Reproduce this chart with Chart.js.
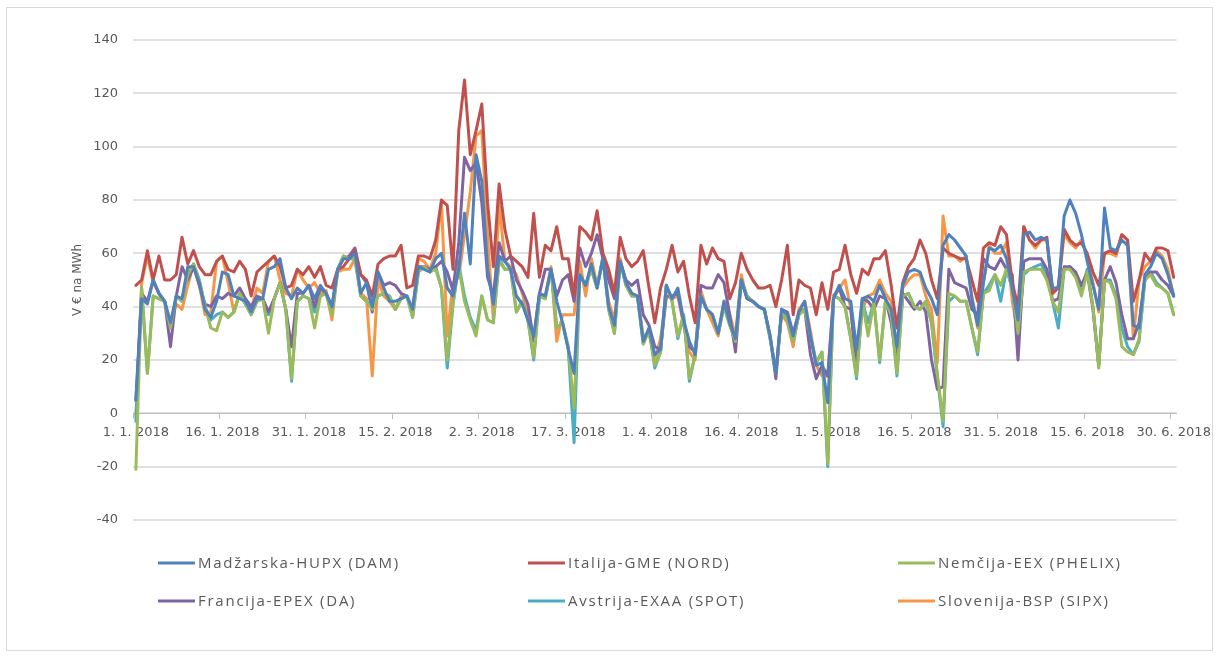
<!DOCTYPE html>
<html><head><meta charset="utf-8">
<script src="https://cdn.jsdelivr.net/npm/chart.js@4"></script>
<style>
html,body{margin:0;padding:0;background:#fff;}
#wrap{position:relative;width:1217px;height:657px;}
#frame{position:absolute;left:6px;top:7px;width:1205px;height:642px;border:1px solid #d9d9d9;pointer-events:none;}
#c{position:absolute;left:0;top:0;}
</style></head><body>
<div id="wrap"><canvas id="c" width="1217" height="657"></canvas><div id="frame"></div></div>
<script>
const tickLabels = ['1. 1. 2018','16. 1. 2018','31. 1. 2018','15. 2. 2018','2. 3. 2018','17. 3. 2018','1. 4. 2018','16. 4. 2018','1. 5. 2018','16. 5. 2018','31. 5. 2018','15. 6. 2018','30. 6. 2018'];
const seriesNames = ['Madžarska-HUPX (DAM)','Italija-GME (NORD)','Nemčija-EEX (PHELIX)','Francija-EPEX (DA)','Avstrija-EXAA (SPOT)','Slovenija-BSP (SIPX)'];
const seriesColors = ['#4f81bd','#c0504d','#9bbb59','#8064a2','#4bacc6','#f79646'];

const hungary = [
 5,43,41,50,45,42,34,44,43,55, 55,49,39,36,42,53,52,44,43,42,
 38,43,43,54,55,58,47,43,47,45, 48,43,48,45,40,54,58,58,60,45,
 49,40,53,47,42,42,43,44,39,55, 54,53,58,60,47,44,54,75,56,97,
 87,54,41,59,57,54,44,41,35,29, 45,44,54,42,34,24,15,52,48,56,
 47,58,40,33,57,49,45,44,27,32, 22,24,48,43,47,35,27,22,44,39,
 37,30,42,34,28,50,43,42,40,39, 29,15,39,37,29,38,42,29,18,19,
 4,43,48,43,42,24,43,44,42,48, 43,39,25,48,53,54,53,47,43,37,
 63,67,65,62,59,43,33,49,62,61, 63,58,47,35,67,68,65,66,65,47,
 47,74,80,75,67,57,48,39,77,62, 61,65,63,33,32,52,55,60,58,52,44];
const italy = [
 48,50,61,50,59,50,50,52,66,56, 61,55,52,52,57,59,54,53,57,54,
 44,53,55,57,59,55,47,48,54,52, 55,51,55,48,47,54,55,58,61,52,
 50,44,56,58,59,59,63,47,48,59, 59,58,65,80,78,54,106,125,97,106,
 116,79,55,86,69,59,57,55,51,75, 51,63,61,70,58,58,44,70,68,65,
 76,60,54,45,66,58,55,57,61,47, 34,47,54,63,53,57,44,34,63,56,
 62,58,57,43,49,60,54,50,47,47, 48,40,50,63,37,50,48,47,37,49,
 39,53,54,63,52,45,54,52,58,58, 61,48,32,49,55,58,65,60,50,43,
 62,60,59,58,58,50,42,62,64,63, 70,67,49,40,70,65,63,65,66,45,
 47,69,65,63,64,60,53,48,60,61, 60,67,65,42,50,60,57,62,62,61,51];
const germany = [
 -21,47,15,44,43,42,32,44,42,52, 56,50,40,32,31,38,36,38,45,41,
 37,42,43,30,43,49,39,13,42,44, 43,32,44,45,37,54,59,58,58,44,
 42,39,44,45,44,39,43,44,36,53, 55,53,54,47,20,41,55,42,35,29,
 44,35,34,57,54,54,38,42,35,21, 44,43,54,32,34,25,2,52,48,54,
 47,58,39,30,57,48,44,44,26,31, 18,23,48,42,29,37,13,22,44,39,
 37,30,40,33,27,50,44,42,40,39, 28,15,38,35,27,37,39,29,19,23,
 -19,44,43,40,28,14,42,29,42,20, 42,37,15,44,45,40,39,42,34,15,
 -3,45,44,42,42,32,23,45,46,52, 48,54,47,30,53,54,54,54,50,42,
 38,54,54,51,44,53,40,17,50,49, 43,25,23,22,28,50,52,48,47,45,37];
const france = [
 5,45,42,50,45,42,25,44,55,50, 55,48,41,40,44,43,45,44,47,43,
 40,44,43,38,43,49,39,25,45,45, 48,40,47,45,40,54,58,59,62,52,
 49,38,53,48,49,48,45,44,39,55, 55,54,55,57,53,46,64,96,91,94,
 79,51,44,64,57,59,50,46,41,27, 45,54,54,44,50,52,42,62,55,60,
 67,58,50,43,57,50,48,50,37,33, 25,24,44,44,45,34,25,23,48,47,
 47,52,49,37,23,50,43,42,40,39, 29,13,39,38,30,38,39,22,13,18,
 14,44,47,40,39,17,43,42,39,44, 43,34,19,45,42,39,42,38,20,9,
 10,54,49,48,47,39,37,58,55,54, 58,54,52,20,57,58,58,58,54,42,
 43,55,55,53,48,53,39,18,50,55, 49,37,28,28,34,50,53,53,50,48,44];
const austria = [
 -3,47,15,44,43,42,32,44,42,52, 56,50,40,35,37,38,36,38,45,41,
 37,42,43,37,43,49,39,12,42,44, 43,38,44,45,37,54,59,58,58,44,
 42,39,44,45,44,39,43,44,36,53, 55,53,55,47,17,41,56,44,36,31,
 44,35,34,58,54,54,38,42,35,20, 44,43,54,32,34,24,-11,52,48,54,
 47,59,39,30,57,48,44,44,26,32, 17,23,48,42,28,37,12,22,44,39,
 37,30,40,33,27,50,44,42,40,39, 28,15,38,35,27,37,39,29,19,23,
 -20,44,43,40,28,13,42,34,42,19, 42,37,14,44,45,40,39,42,34,14,
 -5,42,44,42,42,32,22,45,48,52, 42,54,47,30,52,54,55,56,52,42,
 32,54,55,52,45,54,40,18,50,50, 44,32,25,22,27,50,53,49,47,45,37];
const slovenia = [
 -1,49,59,49,45,42,34,41,39,48, 56,48,37,38,57,59,49,38,45,42,
 39,47,45,57,59,50,45,44,54,50, 47,49,45,46,35,53,54,54,58,45,
 43,14,50,44,42,39,44,44,39,58, 57,54,60,79,29,49,51,67,83,104,
 106,66,35,79,57,55,52,45,38,28, 45,44,55,27,37,37,37,57,44,58,
 48,58,42,35,58,49,45,44,29,30, 20,28,44,43,44,33,23,20,46,39,
 34,29,42,37,29,52,43,42,40,39, 29,15,37,34,25,39,42,31,18,14,
 14,43,47,50,39,17,39,44,45,50, 45,42,23,47,50,52,52,44,39,19,
 74,59,59,57,59,44,32,49,63,60, 60,64,42,30,70,65,62,65,65,45,
 48,67,64,62,65,59,49,38,60,60, 59,67,65,28,50,55,57,61,59,54,44];

const seriesValues = [hungary, italy, germany, france, austria, slovenia];

const days = [];
for (let i = 0; i < hungary.length; i++) {
  const d = new Date(Date.UTC(2018, 0, 1 + i));
  days.push(d.getUTCDate() + '. ' + (d.getUTCMonth() + 1) + '. ' + d.getUTCFullYear());
}

const gridLegend = {
  id: 'gridLegend',
  afterDraw(chart) {
    const ctx = chart.ctx;
    const cols = [158, 528, 898], rows = [563, 601];
    ctx.save();
    ctx.font = '15px "Open Sans"';
    const refW = ctx.measureText(chart.data.datasets[0].label).width;
    const n = chart.data.datasets[0].label.length;
    const ls = Math.max(0, (202 - refW) / n);
    try { ctx.letterSpacing = ls.toFixed(2) + 'px'; } catch (e) {}
    ctx.textBaseline = 'middle';
    ctx.textAlign = 'left';
    chart.data.datasets.forEach((ds, i) => {
      const x = cols[i % 3], y = rows[Math.floor(i / 3)];
      ctx.strokeStyle = ds.borderColor;
      ctx.lineWidth = 3;
      ctx.lineCap = 'butt';
      ctx.beginPath(); ctx.moveTo(x, y); ctx.lineTo(x + 37, y); ctx.stroke();
      ctx.fillStyle = '#595959';
      ctx.fillText(ds.label, x + 40, y + 1);
    });
    ctx.restore();
  }
};

new Chart(document.getElementById('c'), {
  type: 'line',
  data: {
    labels: days,
    datasets: seriesValues.map((vals, i) => ({
      label: seriesNames[i],
      data: vals,
      borderColor: seriesColors[i],
      backgroundColor: seriesColors[i],
      borderWidth: 3,
      pointRadius: 0,
      tension: 0,
      fill: false,
      borderJoinStyle: 'round',
      borderCapStyle: 'round'
    }))
  },
  options: {
    responsive: false,
    animation: false,
    devicePixelRatio: 1,
    layout: { padding: { left: 60, right: 37, top: 40, bottom: 137 } },
    plugins: { legend: { display: false }, tooltip: { enabled: false } },
    scales: {
      y: {
        min: -40, max: 140,
        ticks: { stepSize: 20, color: '#595959', font: { family: 'DejaVu Sans', size: 13 }, padding: 15 },
        grid: { display: true, drawOnChartArea: true, color: '#e0e0e0', lineWidth: 2, drawTicks: false },
        border: { display: false },
        title: { display: true, text: 'V € na MWh', color: '#595959', font: { family: 'DejaVu Sans', size: 12 }, padding: { top: 11, bottom: 0 } },
        afterFit(s) { s.width = 73; }
      },
      x: {
        type: 'category',
        offset: true,
        position: { y: 0 },
        grid: {
          offset: true,
          drawOnChartArea: false,
          drawTicks: true,
          tickLength: 5,
          color: (c) => (c.index !== undefined && c.index % 15 === 0) ? '#bfbfbf' : 'rgba(0,0,0,0)'
        },
        border: { display: true, color: '#bfbfbf', width: 1 },
        ticks: {
          autoSkip: false, maxRotation: 0, minRotation: 0, padding: 6,
          color: '#595959', font: { family: 'DejaVu Sans', size: 13 },
          callback: (v, i) => (i % 15 === 0 ? tickLabels[i / 15] : '')
        }
      }
    }
  },
  plugins: [gridLegend]
});
</script>
</body></html>
